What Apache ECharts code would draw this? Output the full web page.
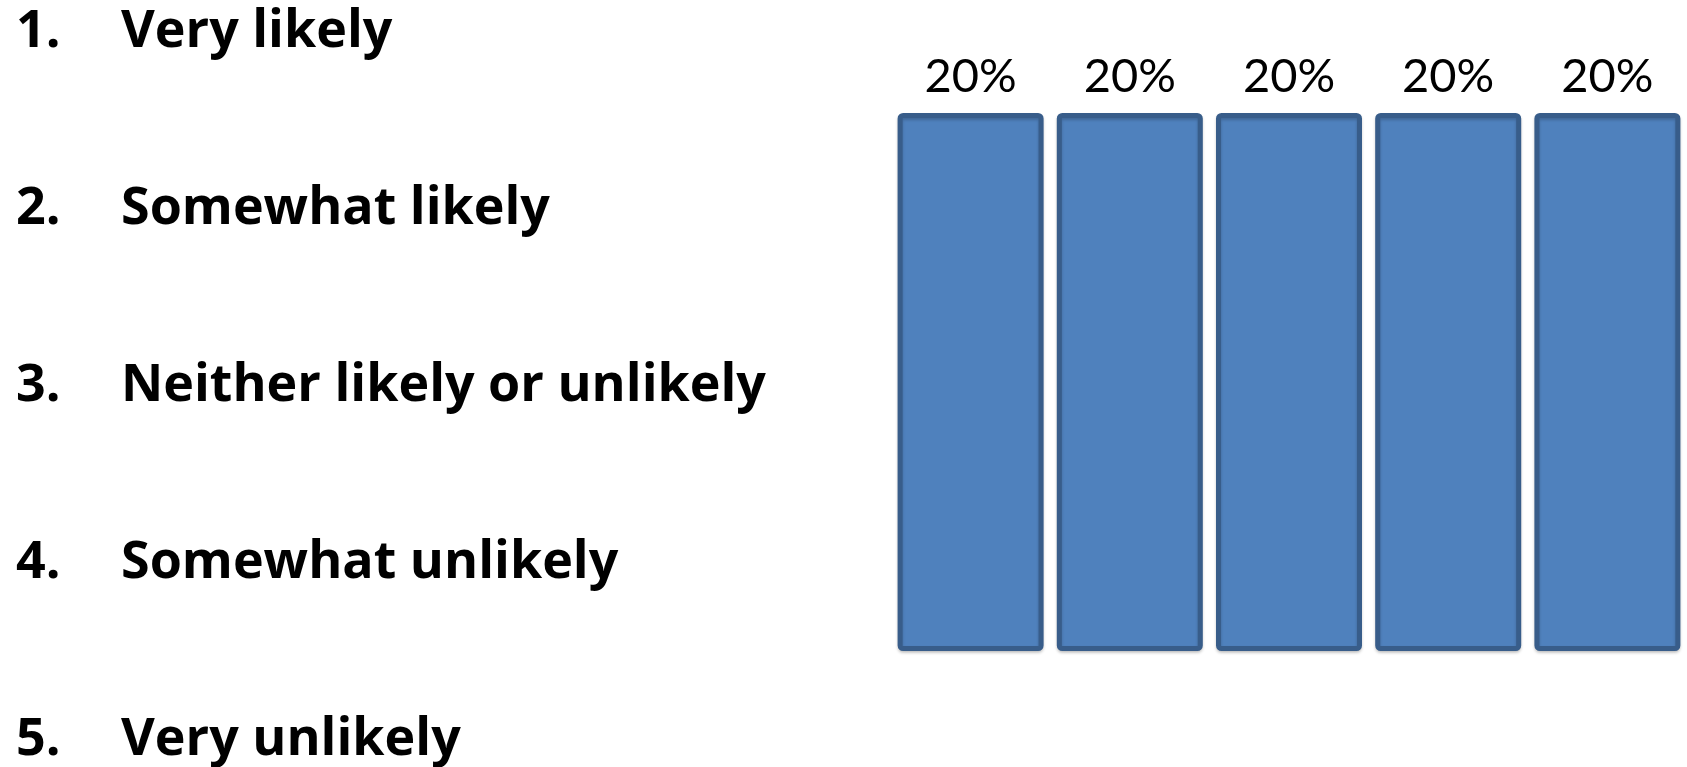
<!DOCTYPE html>
<html>
<head>
<meta charset="utf-8">
<script src="https://cdn.jsdelivr.net/npm/echarts@6/dist/echarts.min.js"></script>
<style>
html,body{margin:0;padding:0;background:#fff;}
#chart{width:1687px;height:767px;}
</style>
</head>
<body>
<div id="chart"></div>
<script>
const numbers = ['1.', '2.', '3.', '4.', '5.'];
const categories = ['Very likely', 'Somewhat likely', 'Neither likely or unlikely', 'Somewhat unlikely', 'Very unlikely'];
const shares = [20, 20, 20, 20, 20];
const valueMax = 20;

const chart = echarts.init(document.getElementById('chart'));
chart.setOption({
  backgroundColor: '#ffffff',
  animation: false,
  grid: [
    { left: 891, right: -4, top: 113, bottom: 116 },
    { left: 16, width: 10, top: 32, bottom: 27 }
  ],
  xAxis: [
    { gridIndex: 0, type: 'category', data: categories, show: false },
    { gridIndex: 1, type: 'value', show: false }
  ],
  yAxis: [
    { gridIndex: 0, type: 'value', min: 0, max: valueMax, show: false },
    {
      gridIndex: 1, type: 'category', inverse: true, boundaryGap: false,
      data: categories.map((c, i) => numbers[i] + '\t' + c),
      axisLine: { show: false }, axisTick: { show: false }, splitLine: { show: false },
      axisLabel: {
        inside: true, margin: 0, align: 'left',
        formatter: (v) => {
          const p = v.split('\t');
          return '{n|' + p[0] + '}{t|' + p[1] + '}';
        },
        rich: {
          n: { width: 105, fontFamily: 'Open Sans', fontWeight: 'bold', fontSize: 52, color: '#000' },
          t: { fontFamily: 'Open Sans', fontWeight: 'bold', fontSize: 52, color: '#000' }
        }
      }
    }
  ],
  series: [{
    type: 'bar',
    xAxisIndex: 0, yAxisIndex: 0,
    data: shares,
    barWidth: 146,
    itemStyle: {
      color: '#4F81BD', borderColor: '#385D8A', borderWidth: 5, borderRadius: 3,
      shadowColor: 'rgba(0,0,0,0.2)', shadowBlur: 3, shadowOffsetY: 2
    },
    label: {
      show: true, position: 'top', distance: 13,
      formatter: (p) => p.value + '%',
      fontFamily: 'Lato', fontSize: 47, color: '#000'
    }
  }]
});
</script>
</body>
</html>
